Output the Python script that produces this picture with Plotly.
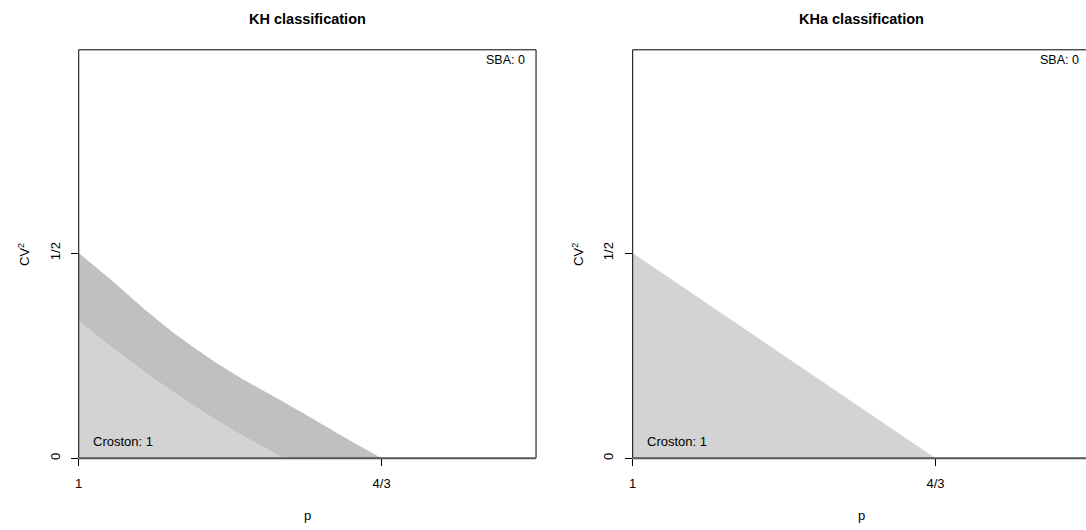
import plotly.graph_objects as go

# ---- data ----
kh_upper_p = [1.0, 1.0365, 1.0731, 1.1096, 1.1462, 1.1828, 1.2193, 1.2467, 1.2832, 4/3]
kh_upper_cv2 = [0.5, 0.433, 0.362, 0.297, 0.240, 0.190, 0.145, 0.110, 0.063, 0.0]
kh_lower_p = [1.0, 1.0365, 1.0731, 1.1096, 1.1462, 1.1828, 1.2102, 1.226]
kh_lower_cv2 = [0.335, 0.271, 0.210, 0.154, 0.101, 0.053, 0.020, 0.0]
kha_p = [1.0, 4/3]
kha_cv2 = [0.5, 0.0]

titles = ["KH classification", "KHa classification"]
x_tickvals = [1.0, 4/3]
x_ticktext = ["1", "4/3"]
y_tickvals = [0.0, 0.5]
y_ticktext = ["0", "1/2"]
sba_label = "SBA: 0"
croston_label = "Croston: 1"

W, H = 1086, 530
FONT = "Liberation Sans, Arial, sans-serif"
LIGHT = "#D3D3D3"
DARK = "#C0C0C0"

def px(x):
    return x / W

def py(y):
    return (H - y) / H

fig = go.Figure()

# Left panel: dark band (upper curve down to 0), then Croston region
fig.add_trace(go.Scatter(x=kh_upper_p, y=kh_upper_cv2, mode="lines", fill="tozeroy",
                         fillcolor=DARK, line=dict(width=0, color=DARK, shape="spline", smoothing=0.6),
                         xaxis="x", yaxis="y", hoverinfo="skip", showlegend=False))
fig.add_trace(go.Scatter(x=kh_lower_p, y=kh_lower_cv2, mode="lines", fill="tozeroy",
                         fillcolor=LIGHT, line=dict(width=0, color=LIGHT, shape="spline", smoothing=0.6),
                         xaxis="x", yaxis="y", hoverinfo="skip", showlegend=False))
# Right panel
fig.add_trace(go.Scatter(x=kha_p, y=kha_cv2, mode="lines", fill="tozeroy",
                         fillcolor=LIGHT, line=dict(width=0, color=LIGHT),
                         xaxis="x2", yaxis="y2", hoverinfo="skip", showlegend=False))

L1, R1 = 75, 534
L2, R2 = 631, 1090
TOP, BOT = 50, 460
x_per_unit = (379 - 75) / (1/3)
y_per_unit = (460 - 254) / 0.5

xcommon = dict(showgrid=False, zeroline=False, showline=False, ticks="outside",
               ticklen=7, tickwidth=1, tickcolor="black",
               tickvals=x_tickvals, ticktext=x_ticktext,
               tickfont=dict(family=FONT, size=13, color="black"),
               ticklabelstandoff=6, fixedrange=True)
ycommon = dict(showgrid=False, zeroline=False, showline=False, ticks="outside",
               ticklen=7, tickwidth=1, tickcolor="black",
               tickvals=y_tickvals, ticktext=y_ticktext, tickangle=-90,
               tickfont=dict(family=FONT, size=13, color="black"),
               ticklabelstandoff=6, fixedrange=True,
               range=[0, (BOT - TOP) / y_per_unit])

fig.update_layout(
    width=W, height=H,
    margin=dict(l=0, r=0, t=0, b=0),
    paper_bgcolor="white", plot_bgcolor="white",
    font=dict(family=FONT, color="black"),
    showlegend=False,
    xaxis=dict(domain=[px(L1), px(R1)], range=[1, 1 + (R1 - L1) / x_per_unit],
               anchor="y", **xcommon),
    yaxis=dict(domain=[py(BOT), py(TOP)], anchor="x", **ycommon),
    xaxis2=dict(domain=[px(L2), 1.0], range=[1, 1 + (W - L2) / x_per_unit],
                anchor="y2", **xcommon),
    yaxis2=dict(domain=[py(BOT), py(TOP)], anchor="x2", **ycommon),
)

shapes = []
frame = dict(color="black", width=1)
bottom = dict(color="#555555", width=2)
# left panel frame
shapes.append(dict(type="line", xref="paper", yref="paper", x0=px(L1), x1=px(R1), y0=py(TOP), y1=py(TOP), line=frame))
shapes.append(dict(type="line", xref="paper", yref="paper", x0=px(L1), x1=px(L1), y0=py(TOP), y1=py(BOT), line=frame))
shapes.append(dict(type="line", xref="paper", yref="paper", x0=px(R1), x1=px(R1), y0=py(TOP), y1=py(BOT), line=frame))
shapes.append(dict(type="line", xref="paper", yref="paper", x0=px(L1), x1=px(R1), y0=py(BOT), y1=py(BOT), line=bottom))
# right panel frame (right edge is off-canvas)
shapes.append(dict(type="line", xref="paper", yref="paper", x0=px(L2), x1=1.0, y0=py(TOP), y1=py(TOP), line=frame))
shapes.append(dict(type="line", xref="paper", yref="paper", x0=px(L2), x1=px(L2), y0=py(TOP), y1=py(BOT), line=frame))
shapes.append(dict(type="line", xref="paper", yref="paper", x0=px(L2), x1=1.0, y0=py(BOT), y1=py(BOT), line=bottom))
fig.update_layout(shapes=shapes)

ann = []
for i, (L, R) in enumerate([(L1, R1), (L2, R2)]):
    cx = (L + R) / 2
    ann.append(dict(text=f"<b>{titles[i]}</b>", x=px(cx), y=py(19), xref="paper", yref="paper",
                    xanchor="center", yanchor="middle", showarrow=False,
                    font=dict(family=FONT, size=14.5, color="black")))
    ann.append(dict(text=sba_label, x=px(R - 9), y=py(60), xref="paper", yref="paper",
                    xanchor="right", yanchor="middle", showarrow=False,
                    font=dict(family=FONT, size=12.5, color="black")))
    ann.append(dict(text=croston_label, x=px(L + 12), y=py(443), xref="paper", yref="paper",
                    xanchor="left", yanchor="middle", showarrow=False,
                    font=dict(family=FONT, size=13, color="black")))
    ann.append(dict(text="p", x=px(cx), y=py(517), xref="paper", yref="paper",
                    xanchor="center", yanchor="middle", showarrow=False,
                    font=dict(family=FONT, size=13, color="black")))
    ann.append(dict(text="CV<sup>2</sup>", x=px(L - 55), y=py((TOP + BOT) / 2), xref="paper", yref="paper",
                    xanchor="center", yanchor="middle", showarrow=False, textangle=-90,
                    font=dict(family=FONT, size=13, color="black")))
fig.update_layout(annotations=ann)

post = ("document.documentElement.style.margin='0';document.documentElement.style.overflow='hidden';"
        "document.body.style.margin='0';document.body.style.padding='0';document.body.style.overflow='hidden';")
fig.write_html("out.html", post_script=post, config={"displayModeBar": False, "staticPlot": True})
